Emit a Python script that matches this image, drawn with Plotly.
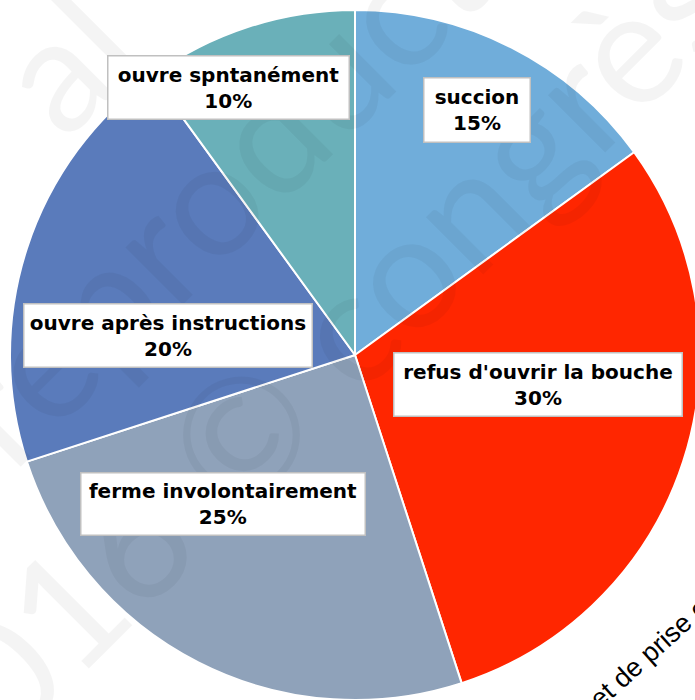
import plotly.graph_objects as go

categories = ["succion", "refus d'ouvrir la bouche", "ferme involontairement",
              "ouvre après instructions", "ouvre spntanément"]
values = [15, 30, 25, 20, 10]
colors = ["#70ADDA", "#FF2600", "#8FA2BA", "#5A7BBB", "#6AB0B9"]

W, H = 700, 700
ML, MT = 10, 10

fig = go.Figure(go.Pie(
    labels=categories, values=values, sort=False, direction="clockwise",
    rotation=0, textinfo="none", hoverinfo="label+percent",
    marker=dict(colors=colors, line=dict(color="white", width=2)),
    domain=dict(x=[0, 1], y=[0, 1]),
))

PW, PH = W - ML, H - MT

def px(x, y):
    return (x - ML) / PW, 1 - (y - MT) / PH

annotations = []
# faint watermark
for txt, cx, cy in [("al", 62, 58), ("reproduction", 290, 110), ("2016 © congrès", 300, 370)]:
    ax, ay = px(cx, cy)
    annotations.append(dict(text=txt, x=ax, y=ay, xref="paper", yref="paper",
                            xanchor="center", yanchor="middle",
                            showarrow=False, textangle=-45,
                            font=dict(size=160, family="Lato", color="rgba(0,0,0,0.045)")))

# partial text at bottom right
ax, ay = px(655, 648)
annotations.append(dict(text="et de prise en", x=ax, y=ay, xref="paper", yref="paper",
                        xanchor="center", yanchor="middle",
                        showarrow=False, textangle=-42,
                        font=dict(size=27, family="Liberation Sans", color="black")))

# data labels (boxes)
boxes = [  # (x0, y0, x1, y1)
    (423, 77, 531, 143),
    (393, 352, 683, 417),
    (80, 472, 366, 536),
    (23, 303, 313, 368),
    (107, 55, 350, 120),
]
total = sum(values)
for cat, v, (x0, y0, x1, y1) in zip(categories, values, boxes):
    ax, ay = px((x0 + x1) / 2, (y0 + y1) / 2)
    annotations.append(dict(
        text=f"<b>{cat}<br>{round(100 * v / total)}%</b>",
        x=ax, y=ay, xref="paper", yref="paper", showarrow=False,
        xanchor="center", yanchor="middle",
        width=x1 - x0 - 3, height=y1 - y0 - 3, align="center", valign="middle",
        bgcolor="white", bordercolor="#C0C0C0", borderwidth=1.5, borderpad=0,
        font=dict(size=20, family="DejaVu Sans", color="black")))

fig.update_layout(width=W, height=H, margin=dict(l=ML, r=0, t=MT, b=0),
                  showlegend=False, paper_bgcolor="white",
                  annotations=annotations)
fig.write_html("out.html", config={"displayModeBar": False}, post_script=(
    "document.body.style.margin='0';"
    "document.body.style.overflow='hidden';"
    "document.documentElement.style.overflow='hidden';"))
